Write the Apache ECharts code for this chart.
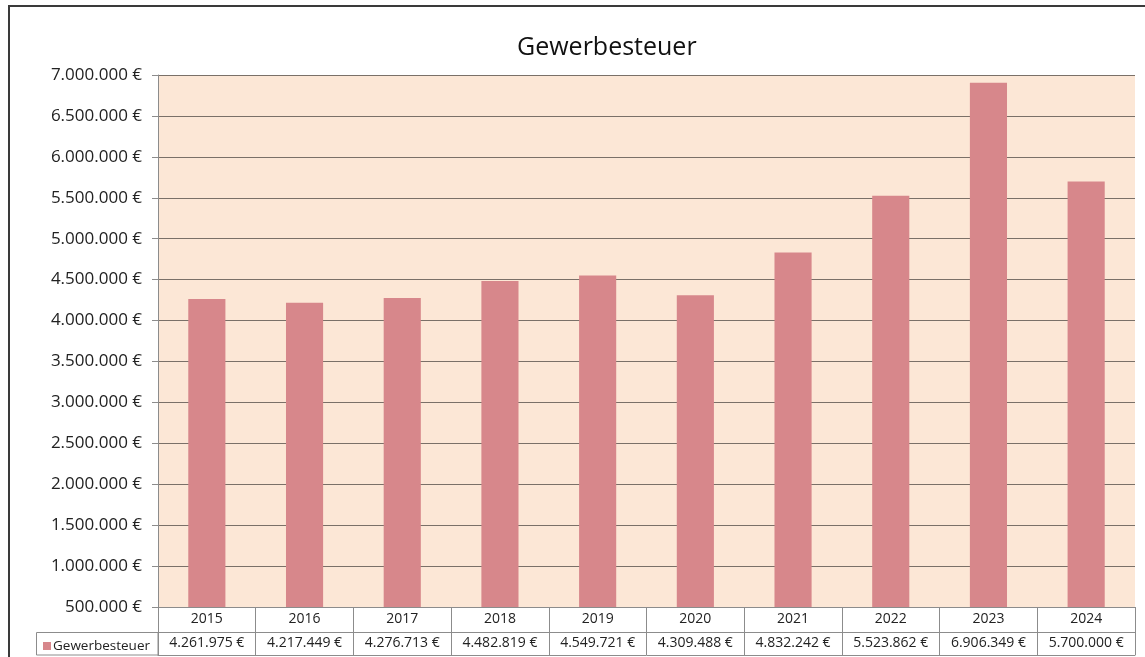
<!DOCTYPE html>
<html>
<head>
<meta charset="utf-8">
<title>Gewerbesteuer</title>
<script src="https://cdn.jsdelivr.net/npm/echarts@6/dist/echarts.min.js"></script>
<style>
    html, body { margin: 0; padding: 0; background: #fff; }
    #chart { width: 1145px; height: 657px; }
</style>
</head>
<body>
<div id="chart"></div>
<script>
    // Daten
    const years = ['2015', '2016', '2017', '2018', '2019', '2020', '2021', '2022', '2023', '2024']
    const steuer = [4261975, 4217449, 4276713, 4482819, 4549721, 4309488, 4832242, 5523862, 6906349, 5700000]
    const seriesName = 'Gewerbesteuer'

    // 1234567 -> "1.234.567 €"
    function euro(v) {
        return String(Math.round(v)).replace(/\B(?=(\d{3})+(?!\d))/g, '.') + ' €'
    }

    const font = '"Open Sans", "Noto Sans", sans-serif'
    const lineCol = '#8c8c8c'

    const myChart = echarts.init(document.getElementById('chart'))

    const option = {
        animation: false,
        title: {
            text: 'Gewerbesteuer',
            left: 512,
            top: 30,
            textStyle: { fontFamily: font, fontSize: 25, fontWeight: 'normal', color: '#111' }
        },
        legend: {
            data: [seriesName],
            left: 38,
            top: 634,
            icon: 'rect',
            itemWidth: 8,
            itemHeight: 8,
            itemGap: 4,
            textStyle: { fontFamily: font, fontSize: 13.5, color: '#222', padding: [0, 0, 0, -3] }
        },
        grid: {
            left: 158,
            right: 10,
            top: 75,
            bottom: 50,
            show: true,
            backgroundColor: '#fce7d6',
            borderWidth: 0
        },
        xAxis: [
            {
                // Jahreszeile der Tabelle
                type: 'category',
                data: years,
                position: 'bottom',
                axisLine: { show: true, lineStyle: { color: lineCol, width: 1 } },
                axisTick: { show: true, interval: 0, length: 48, lineStyle: { color: lineCol } },
                axisLabel: { margin: 5, fontFamily: font, fontSize: 14, color: '#222' }
            },
            {
                // Wertezeile der Tabelle
                type: 'category',
                data: years,
                position: 'bottom',
                offset: 25,
                axisLine: { show: true, lineStyle: { color: lineCol, width: 1 } },
                axisTick: { show: false },
                axisLabel: {
                    margin: 4,
                    fontFamily: font,
                    fontSize: 14,
                    color: '#222',
                    formatter: (value, index) => euro(steuer[index])
                }
            },
            {
                type: 'category',
                data: years,
                position: 'bottom',
                offset: 48,
                axisLine: { show: true, lineStyle: { color: lineCol, width: 1 } },
                axisTick: { show: false },
                axisLabel: { show: false }
            }
        ],
        yAxis: {
            type: 'value',
            min: 500000,
            max: 7000000,
            interval: 500000,
            axisLine: { show: true, lineStyle: { color: lineCol } },
            axisTick: { show: true, length: 6, lineStyle: { color: lineCol } },
            axisLabel: {
                margin: 16,
                fontFamily: font,
                fontSize: 17,
                color: '#222',
                formatter: (v) => euro(v)
            },
            splitLine: { show: true, lineStyle: { color: '#7a7068', width: 1.2 } }
        },
        series: [{
            name: seriesName,
            type: 'bar',
            data: steuer,
            barWidth: '38%',
            itemStyle: { color: '#d7878b' }
        }],
        graphic: [
            {
                // Rahmen der Legendenzelle
                type: 'rect',
                shape: { x: 36.5, y: 632.5, width: 121.5, height: 22.5 },
                style: { fill: 'none', stroke: lineCol, lineWidth: 1 },
                silent: true
            },
            {
                // äußerer Diagrammrahmen
                type: 'rect',
                shape: { x: 9, y: 6, width: 1150, height: 670 },
                style: { fill: 'none', stroke: '#3a3a3a', lineWidth: 2 },
                silent: true
            }
        ]
    }

    myChart.setOption(option)

    window.addEventListener('resize', () => {
        myChart.resize()
    })
</script>
</body>
</html>
